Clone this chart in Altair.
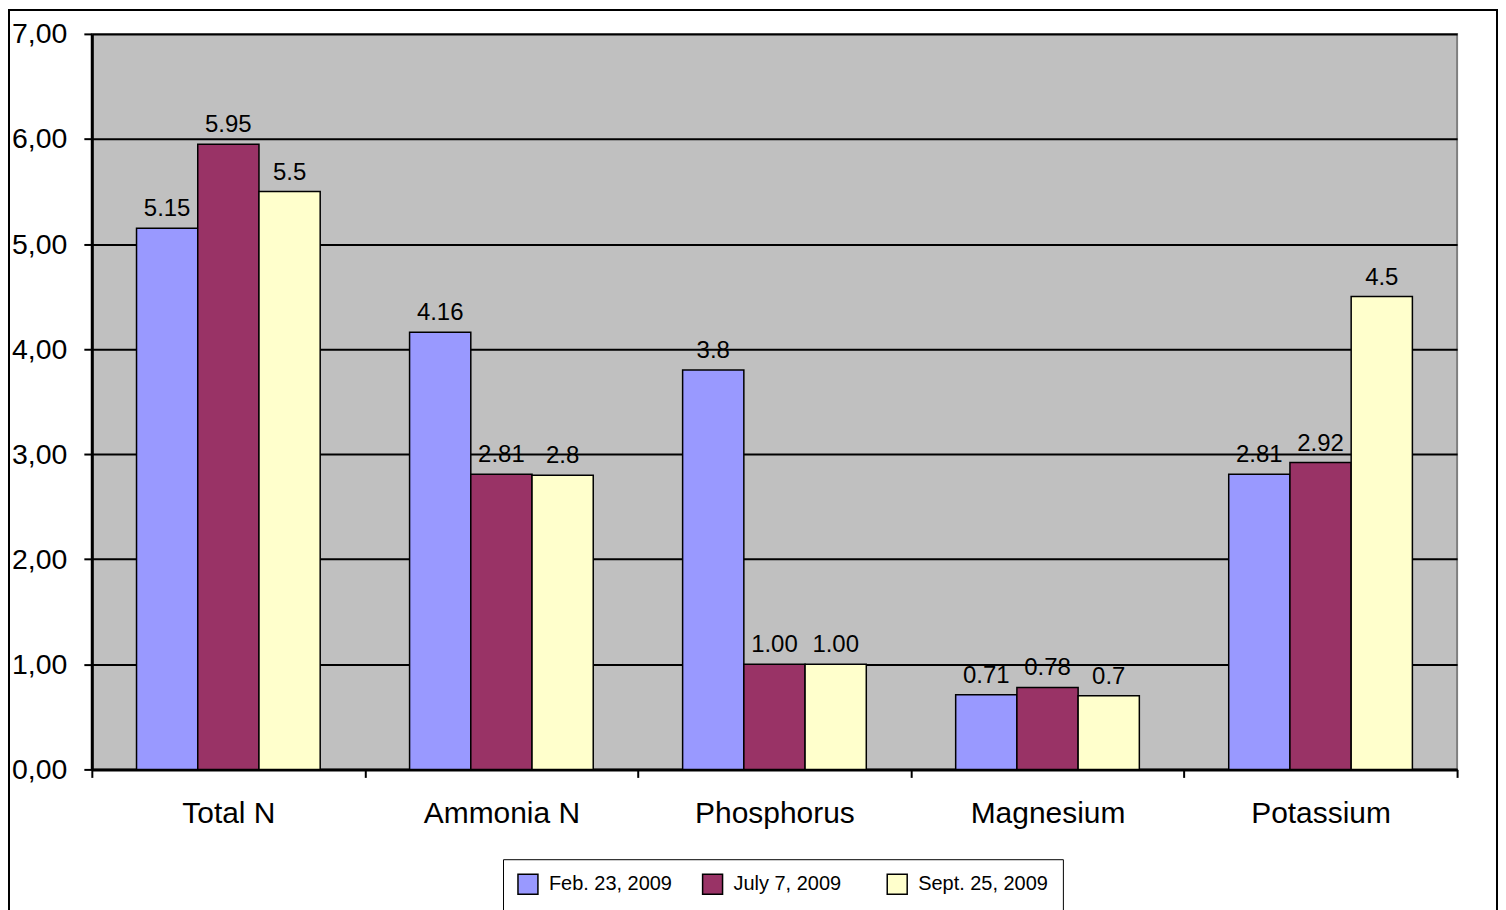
import altair as alt
import pandas as pd

categories = ["Total N", "Ammonia N", "Phosphorus", "Magnesium", "Potassium"]
series = ["Feb. 23, 2009", "July 7, 2009", "Sept. 25, 2009"]
feb_values = [5.15, 4.16, 3.8, 0.71, 2.81]
jul_values = [5.95, 2.81, 1.00, 0.78, 2.92]
sep_values = [5.5, 2.8, 1.00, 0.7, 4.5]
feb_labels = ["5.15", "4.16", "3.8", "0.71", "2.81"]
jul_labels = ["5.95", "2.81", "1.00", "0.78", "2.92"]
sep_labels = ["5.5", "2.8", "1.00", "0.7", "4.5"]
colors = ["#9999FF", "#993366", "#FFFFCC"]
y_ticks = [0, 1, 2, 3, 4, 5, 6, 7]

rows = []
for s, vals, labs in zip(series, [feb_values, jul_values, sep_values],
                         [feb_labels, jul_labels, sep_labels]):
    for c, v, l in zip(categories, vals, labs):
        rows.append({"category": c, "series": s, "value": v, "label": l})
df = pd.DataFrame(rows)

FONT = "Liberation Sans"

x = alt.X("category:N", sort=categories,
          scale=alt.Scale(paddingInner=0, paddingOuter=0),
          axis=alt.Axis(title=None, labelAngle=0, labelFontSize=30, labelColor="black",
                        labelFont=FONT, labelPadding=21, tickBand="extent", tickSize=8,
                        tickWidth=2, tickColor="black", domainColor="black",
                        domainWidth=3, grid=False))
xo = alt.XOffset("series:N", sort=series,
                 scale=alt.Scale(domain=series, paddingOuter=0.73, paddingInner=0))
y = alt.Y("value:Q", scale=alt.Scale(domain=[0, 7], nice=False),
          axis=alt.Axis(title=None, values=y_ticks,
                        labelExpr="replace(format(datum.value, '.2f'), '.', ',')",
                        labelFontSize=28.5, labelFont=FONT, labelColor="black",
                        labelPadding=17, tickSize=8, tickWidth=2, tickColor="black",
                        domainColor="black", domainWidth=3,
                        grid=True, gridColor="black", gridWidth=2, gridOpacity=1))

color = alt.Color("series:N", sort=series,
                  scale=alt.Scale(domain=series, range=colors),
                  legend=alt.Legend(title=None, orient="none", legendX=412, legendY=827,
                                    direction="horizontal", columns=3, columnPadding=20,
                                    gridAlign="all", strokeColor="black", padding=14,
                                    fillColor="white", symbolType="square",
                                    symbolSize=400, symbolStrokeColor="black",
                                    symbolStrokeWidth=1.5, symbolOpacity=1,
                                    labelFontSize=20, labelFont=FONT, labelColor="black",
                                    labelOffset=10))

bars = alt.Chart(df).mark_bar(stroke="black", strokeWidth=1.5, opacity=1).encode(
    x=x, xOffset=xo, y=y, color=color
)

texts = alt.Chart(df).mark_text(baseline="alphabetic", dy=-12, fontSize=24,
                                font=FONT, color="black").encode(
    x=alt.X("category:N", sort=categories), xOffset=alt.XOffset("series:N", sort=series),
    y="value:Q", text="label:N"
)

frame = alt.Chart(pd.DataFrame({"f": [0]})).mark_rect(
    filled=False, stroke="black", strokeWidth=2
).encode(x=alt.value(-83), x2=alt.value(1408), y=alt.value(-24), y2=alt.value(900))

chart = alt.layer(frame, bars, texts).properties(
    width=1368, height=737, padding=0, background="white"
).configure_view(
    fill="#C0C0C0", stroke="#808080", strokeWidth=2
)

chart.save("out.html", embed_options={"renderer": "svg", "actions": False})
